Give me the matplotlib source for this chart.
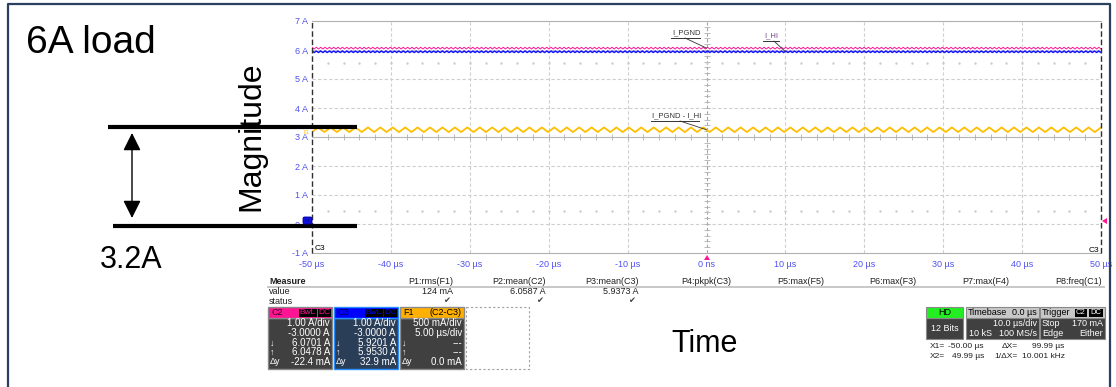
import numpy as np
import matplotlib
matplotlib.use("Agg")
import matplotlib.pyplot as plt
from matplotlib.patches import Rectangle, FancyBboxPatch, Polygon

plt.rcParams["font.family"] = ["Liberation Sans", "DejaVu Sans"]

W, H = 1116, 387

# --- scope record (A), one ripple cycle per channel repeated over the 100 us record
c2_cycle = [6.095, 6.035]
c3_cycle = [5.965, 5.915]
f1_cycle = [3.17, 3.33]
c2_cycles = 182
c3_cycles = 182
f1_cycles = 64

x_ticks = [-50, -40, -30, -20, -10, 0, 10, 20, 30, 40, 50]
x_labels = ["-50 µs", "-40 µs", "-30 µs", "-20 µs", "-10 µs", "0 ns",
            "10 µs", "20 µs", "30 µs", "40 µs", "50 µs"]
y_ticks = [-1, 0, 1, 2, 3, 4, 5, 6, 7]
y_labels = ["-1 A", "0 A", "1 A", "2 A", "3 A", "4 A", "5 A", "6 A", "7 A"]

cursor_x1 = -50.00
cursor_x2 = 49.99

# --- measurement table
measure_names = ["P1:rms(F1)", "P2:mean(C2)", "P3:mean(C3)", "P4:pkpk(C3)",
                 "P5:max(F5)", "P6:max(F3)", "P7:max(F4)", "P8:freq(C1)"]
measure_values = ["124 mA", "6.0587 A", "5.9373 A", "", "", "", "", ""]
measure_status = [True, True, True, False, False, False, False, False]

# --- channel descriptor boxes
ch_names = ["C2", "C3", "F1"]
ch_tags = [("BwL", "DC"), ("BwL", "DC"), None]
ch_source = ["", "", "(C2-C3)"]
ch_scale = ["1.00 A/div", "1.00 A/div", "500 mA/div"]
ch_offset = ["-3.0000 A", "-3.0000 A", "5.00 µs/div"]
ch_down = ["6.0701 A", "5.9201 A", "---"]
ch_up = ["6.0478 A", "5.9530 A", "---"]
ch_dy = ["-22.4 mA", "32.9 mA", "0.0 mA"]

PINK = "#ff1493"
BLUE = "#1414ff"
YELLOW = "#ffbf00"
TICK = "#5050f0"
GRID = "#cfcfcf"

fig = plt.figure(figsize=(W / 100, H / 100), dpi=100)
fig.patch.set_facecolor("white")

# ---------------- scope grid ----------------
ax = fig.add_axes([312 / W, 1 - 253 / H, 789 / W, 232 / H])
ax.set_xlim(-50, 50)
ax.set_ylim(-1, 7)
ax.set_xticks(x_ticks, x_labels)
ax.set_yticks(y_ticks, y_labels)
ax.tick_params(axis="both", length=0, labelsize=6.5, labelcolor=TICK)
ax.tick_params(axis="x", pad=5)
ax.tick_params(axis="y", pad=3)
for side in ("left", "right"):
    ax.spines[side].set_visible(False)
for side in ("top", "bottom"):
    ax.spines[side].set_color("#b0b0b0")
    ax.spines[side].set_linewidth(0.8)

for v in x_ticks[1:-1]:
    if v != 0:
        ax.axvline(v, color=GRID, lw=0.8, ls=(0, (3, 2)), zorder=1)
for v in y_ticks[1:-1]:
    if v != 3:
        ax.axhline(v, color=GRID, lw=0.8, ls=(0, (3, 2)), zorder=1)

# centre axes with minor ticks
ax.axhline(3, color="#b5b5b5", lw=0.8, zorder=1)
ax.axvline(0, color="#a5a5a5", lw=0.8, ls=(0, (3, 2)), zorder=1)
hx = np.arange(-48, 50, 2)
ax.plot(hx, np.full(hx.size, 3.0), ls="none", marker="|", ms=4,
        mew=0.6, color="#b0b0b0", zorder=1)
vy = np.arange(-0.8, 7.0, 0.2)
ax.plot(np.zeros(vy.size), vy, ls="none", marker="_", ms=4,
        mew=0.6, color="#b0b0b0", zorder=1)
for row in (5.55, 0.45):
    ax.plot(hx, np.full(hx.size, row), ls="none", marker="s", ms=0.7,
            color="#cccccc", zorder=1)

# cursors
for cx in (cursor_x1, cursor_x2):
    ax.axvline(cx, color="#303030", lw=1.0, ls=(0, (4, 2)), zorder=4,
               clip_on=False)

# traces
c2 = np.tile(c2_cycle, c2_cycles)
c3 = np.tile(c3_cycle, c3_cycles)
f1 = np.tile(f1_cycle, f1_cycles)
ax.plot(np.linspace(-50, 50, c2.size), c2, color=PINK, lw=0.7, zorder=3)
ax.plot(np.linspace(-50, 50, c3.size), c3, color=BLUE, lw=1.1, zorder=3)
ax.plot(np.linspace(-50, 50, f1.size), f1, color=YELLOW, lw=1.3, zorder=3)

# trace labels with leader lines
def trace_label(text, tx, ty, ux0, ux1, lx, point, color="#333333"):
    ax.annotate("", xy=point, xytext=(lx, H - (ty + 5)),
                textcoords="figure pixels",
                arrowprops=dict(arrowstyle="-", color="#333333", lw=0.6,
                                shrinkA=0, shrinkB=0), zorder=5)
    fig.text(tx / W, 1 - ty / H, text, fontsize=5.5, color=color,
             ha="left", va="center")
    fig.add_artist(plt.Line2D([ux0 / W, ux1 / W],
                              [1 - (ty + 5) / H, 1 - (ty + 5) / H],
                              color="#333333", lw=0.7))


trace_label("I_PGND", 672, 33, 671, 700, 685, (0, np.mean(c2_cycle)))
trace_label("I_HI", 764, 36, 763, 779, 774, (10, np.mean(c3_cycle)),
            color="#704a86")
trace_label("I_PGND - I_HI", 652, 116, 651, 699, 680, (0, np.mean(f1_cycle)))

# ---------------- overlay in pixel coordinates ----------------
ov = fig.add_axes([0, 0, 1, 1], zorder=5)
ov.set_xlim(0, W)
ov.set_ylim(H, 0)
ov.axis("off")
ov.patch.set_alpha(0)

# slide frame
ov.plot([8, 8, 1110, 1110], [H + 5, 4, 4, H + 5], color="#2b3f5f", lw=1.6)

# channel markers on the grid
ov.add_patch(FancyBboxPatch((303, 217), 9, 7,
                            boxstyle="round,pad=0,rounding_size=1.5",
                            fc="#1010e0", ec="#0000a0", lw=0.6, zorder=3))
ov.text(307.5, 220.5, "C3", fontsize=3, color="#000070",
        ha="center", va="center", zorder=4)
ov.text(306, 133, "F1", fontsize=3.5, color=YELLOW, ha="center", va="center")
ov.add_patch(Polygon([(1102, 221), (1107, 218), (1107, 224)], fc=PINK))
ov.add_patch(Polygon([(707, 255), (704, 260), (710, 260)], fc=PINK))
ov.text(315, 249, "C3", fontsize=6, color="black", ha="left", va="center")
ov.text(1099, 250, "C3", fontsize=6, color="black", ha="right", va="center")

# measurement table
TXT = "#202020"
ov.text(269, 281, "Measure", fontsize=6.5, fontweight="bold", color=TXT,
        va="center")
ov.text(269, 292, "value", fontsize=6.5, color=TXT, va="center")
ov.text(269, 302, "status", fontsize=6.5, color=TXT, va="center")
ov.plot([268, 1104], [286.5, 286.5], color="#c8c8c8", lw=1.4)
for i, (name, val, ok) in enumerate(zip(measure_names, measure_values,
                                        measure_status)):
    xr = 453 + i * 92.7
    ov.text(xr, 281, name, fontsize=6.5, color=TXT, ha="right", va="center")
    if val:
        ov.text(xr, 292, val, fontsize=6.5, color=TXT, ha="right",
                va="center")
    if ok:
        ov.text(xr - 3, 302, "✔", fontsize=6, color="#404040", ha="right",
                va="center")

# channel boxes
head_fc = [PINK, "#0000ff", "#ffb000"]
body_fc = ["#404040", "#2a3e58", "#404040"]
edge_c = ["#8a8a8a", "#2a90ff", "#8a8a8a"]
head_txt = ["#3a0020", "#000050", "black"]
rows_y = [323, 333, 343, 352, 362]
for i, name in enumerate(ch_names):
    x0 = 268 + i * 66
    w = 64
    ov.add_patch(Rectangle((x0, 318), w, 51, fc=body_fc[i], ec=edge_c[i],
                           lw=1.0))
    ov.add_patch(Rectangle((x0, 307), w, 11, fc=head_fc[i], ec=edge_c[i],
                           lw=1.0))
    ov.text(x0 + 3, 312.5, name, fontsize=6.5, color=head_txt[i],
            va="center")
    if ch_tags[i]:
        for (bx, bw), tag in zip(((x0 + 31, 18), (x0 + 50, 13)), ch_tags[i]):
            ov.add_patch(Rectangle((bx, 308.5), bw, 8.5, fc="black"))
            ov.text(bx + bw / 2, 312.8, tag, fontsize=6, color=head_fc[i],
                    ha="center", va="center")
    if ch_source[i]:
        ov.text(x0 + w - 2, 312.5, ch_source[i], fontsize=6.5, color="black",
                ha="right", va="center")
    vals = [ch_scale[i], ch_offset[i], ch_down[i], ch_up[i], ch_dy[i]]
    for ry, v in zip(rows_y, vals):
        ov.text(x0 + w - 2, ry, v, fontsize=7, color="white", ha="right",
                va="center")
    for ry, sym in zip(rows_y[2:], ["↓", "↑", "Δy"]):
        ov.text(x0 + 2, ry, sym, fontsize=6.5, color="white", va="center")
ov.add_patch(Rectangle((466, 307), 63, 62, fill=False, ec="#a0a0a0",
                       lw=0.8, ls=(0, (2, 2))))

# acquisition panels
ov.add_patch(Rectangle((926, 318), 37, 21, fc="#404040", ec="#8a8a8a", lw=0.8))
ov.add_patch(Rectangle((926, 307), 37, 11, fc="#22ee22", ec="#8a8a8a", lw=0.8))
ov.text(944.5, 312.5, "HD", fontsize=6.5, color="black", ha="center",
        va="center")
ov.text(944.5, 328.5, "12 Bits", fontsize=6.5, color="white", ha="center",
        va="center")

ov.add_patch(Rectangle((966, 318), 73, 21, fc="#404040", ec="#8a8a8a", lw=0.8))
ov.add_patch(Rectangle((966, 307), 73, 11, fc="#c8c8c8", ec="#8a8a8a", lw=0.8))
ov.text(968, 312.5, "Timebase", fontsize=6.5, color="black", va="center")
ov.text(1037, 312.5, "0.0 µs", fontsize=6.5, color="black", ha="right",
        va="center")
ov.text(1037, 324, "10.0 µs/div", fontsize=6.5, color="white", ha="right",
        va="center")
ov.text(969, 334, "10 kS", fontsize=6.5, color="white", va="center")
ov.text(1037, 334, "100 MS/s", fontsize=6.5, color="white", ha="right",
        va="center")

ov.add_patch(Rectangle((1040, 318), 65, 21, fc="#404040", ec="#8a8a8a", lw=0.8))
ov.add_patch(Rectangle((1040, 307), 65, 11, fc="#c8c8c8", ec="#8a8a8a", lw=0.8))
ov.text(1042, 312.5, "Trigger", fontsize=6.5, color="black", va="center")
for bx, bw, tag in ((1075, 12, "C2"), (1089, 14, "DC")):
    ov.add_patch(Rectangle((bx, 308.5), bw, 8.5, fc="black"))
    ov.text(bx + bw / 2, 312.8, tag, fontsize=5.5, color="white",
            ha="center", va="center")
ov.text(1042, 324, "Stop", fontsize=6.5, color="white", va="center")
ov.text(1103, 324, "170 mA", fontsize=6.5, color="white", ha="right",
        va="center")
ov.text(1042, 334, "Edge", fontsize=6.5, color="white", va="center")
ov.text(1103, 334, "Either", fontsize=6.5, color="white", ha="right",
        va="center")

# cursor readout
dx = cursor_x2 - cursor_x1
RD = 6
ov.text(930, 346, "X1=", fontsize=RD, color=TXT, va="center")
ov.text(984, 346, f"{cursor_x1:.2f} µs", fontsize=RD, color=TXT,
        ha="right", va="center")
ov.text(1018, 346, "ΔX=", fontsize=RD, color=TXT, ha="right", va="center")
ov.text(1064, 346, f"{dx:.2f} µs", fontsize=RD, color=TXT, ha="right",
        va="center")
ov.text(930, 356, "X2=", fontsize=RD, color=TXT, va="center")
ov.text(984, 356, f"{cursor_x2:.2f} µs", fontsize=RD, color=TXT,
        ha="right", va="center")
ov.text(1018, 356, "1/ΔX=", fontsize=RD, color=TXT, ha="right",
        va="center")
ov.text(1065, 356, f"{1000 / dx:.3f} kHz", fontsize=RD, color=TXT,
        ha="right", va="center")

# slide annotations
ov.text(26, 53, "6A load", fontsize=28, color="black", va="baseline")
ov.text(100, 268, "3.2A", fontsize=22, color="black", va="baseline")
ov.text(671, 352, "Time", fontsize=22, color="black", va="baseline")
ov.text(251.5, 136.5, "Magnitude", fontsize=23, color="black", rotation=90,
        ha="center", va="center")
ov.plot([108, 357], [127, 127], color="black", lw=3, solid_capstyle="butt")
ov.plot([113, 357], [226, 226], color="black", lw=3, solid_capstyle="butt")
ov.annotate("", xy=(132, 133), xytext=(132, 218),
            arrowprops=dict(arrowstyle="<|-|>,head_length=0.4,head_width=0.2",
                            color="black", lw=1.0, mutation_scale=27,
                            shrinkA=0, shrinkB=0))

fig.savefig("out.png", dpi=100)
